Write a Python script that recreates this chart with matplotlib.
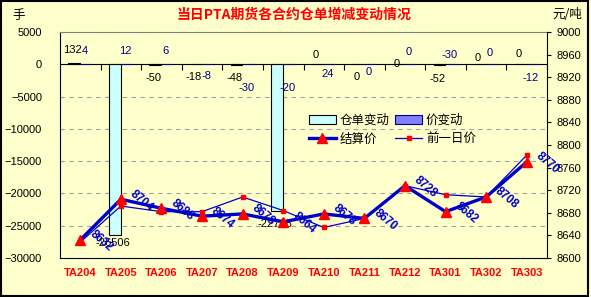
import numpy as np
import matplotlib
matplotlib.use("Agg")
import matplotlib.pyplot as plt
from matplotlib.lines import Line2D
from matplotlib.patches import Patch, Rectangle

plt.rcParams['font.family'] = ['Liberation Sans', 'Noto Sans CJK SC', 'DejaVu Sans']

# ---------------- data ----------------
categories = ["TA204", "TA205", "TA206", "TA207", "TA208", "TA209",
              "TA210", "TA211", "TA212", "TA301", "TA302", "TA303"]
warehouse_change = [132, -26506, -50, -18, -48, -22768, 0, 0, 0, -52, 0, 0]   # 仓单变动 (手)
price_change = [4, 12, 6, -8, -30, -20, 24, 0, 0, -30, 0, -12]             # 价变动
settle_price = [8632, 8704, 8688, 8674, 8678, 8664, 8678, 8670, 8728, 8682, 8708, 8770]  # 结算价
prev_price = [8628, 8692, 8682, 8682, 8708, 8684, 8654, 8670, 8728, 8712, 8708, 8782]    # 前一日价

# label placement style: vertical offsets in points from bar end / zero line
wh_label_off = [9.4, -5.8, -10, -9.4, -10, -9.4, 6.7, -9.4, 0, -10.6, 4.6, 7.4]
pc_label_off = [9.4, 9.4, 9.4, -8.6, -17, -17, -7, -5.8, 8.6, 6.5, 8, -10]

BG = '#FFFFCC'
W, H = 591, 297
fig = plt.figure(figsize=(W / 100, H / 100), dpi=100, facecolor=BG)
ax = fig.add_axes([60 / W, 1 - 258 / H, (547 - 60) / W, (258 - 32) / H])
ax.set_facecolor(BG)

x = np.arange(len(categories))
bw = 0.29
b1 = ax.bar(x - 0.15, warehouse_change, bw, color='#CCFFFF', edgecolor='black', linewidth=0.8, zorder=3)
b2 = ax.bar(x + 0.15, price_change, bw, color='#8080FF', edgecolor='#000080', linewidth=0.8, zorder=3)

ymin, ymax = -30000, 5000
ax.set_ylim(ymin, ymax)
ax.set_xlim(-0.5, len(categories) - 0.5)
ax.set_yticks(np.arange(-30000, 5001, 5000))
ax.tick_params(axis='y', length=0, pad=13, labelsize=8)
ax.set_xticks(x)
ax.set_xticklabels(categories, color='#FF0000', fontweight='bold', fontsize=8)
ax.tick_params(axis='x', length=0, pad=7)
for yv in np.arange(-25000, 0, 5000):
    ax.axhline(yv, color='#A0A0A0', lw=0.8, ls=(0, (4, 4)), zorder=1)
for s in ['left', 'bottom']:
    ax.spines[s].set_color('black')
ax.spines['top'].set_color('#808080')
ax.spines['right'].set_visible(False)

# zero-line category axis with upward ticks
sec = ax.secondary_xaxis((0 - ymin) / (ymax - ymin))
sec.set_xticks(np.arange(len(categories)) + 0.5)
sec.tick_params(direction='in', length=4, labelbottom=False, labeltop=False, color='black')
sec.spines['bottom'].set_color('black')

# bar labels
for xi, v, off in zip(x, warehouse_change, wh_label_off):
    ref = v if off < 0 else max(v, 0)
    ax.annotate(f"{v}", (xi - 0.2, ref), xytext=(0, off), textcoords='offset points',
                ha='center', va='center', fontsize=8, color='black', zorder=5)
for xi, v, off in zip(x, price_change, pc_label_off):
    ax.annotate(f"{v}", (xi + 0.1, 0), xytext=(0, off), textcoords='offset points',
                ha='center', va='center', fontsize=8, color='#000080', zorder=5)

# price lines
ax2 = ax.twinx()
ax2.set_ylim(8600, 9000)
ax2.set_yticks(np.arange(8600, 9001, 40))
ax2.tick_params(axis='y', length=3, pad=4, labelsize=8, direction='out')
ax2.spines['right'].set_color('black')
ax2.spines['left'].set_visible(False)
ax2.spines['top'].set_visible(False)
ax2.spines['bottom'].set_visible(False)

l2, = ax2.plot(x, prev_price, color='#0000CC', lw=0.9, marker='s', ms=2.5,
               mfc='#FF0000', mec='#FF0000', zorder=3)
l1, = ax2.plot(x, settle_price, color='#0000CC', lw=2.4, marker='^', ms=6.5,
               mfc='#FF0000', mec='#FF0000', zorder=4)
for xi, v in zip(x, settle_price):
    ax2.annotate(f"{v}", (xi, v), xytext=(15, -1), textcoords='offset points',
                 rotation=-40, ha='center', va='center', fontsize=8.5,
                 fontweight='bold', color='#0000CC', zorder=6)

h_wh = Patch(facecolor='#CCFFFF', edgecolor='black', linewidth=0.8)
h_pc = Patch(facecolor='#8080FF', edgecolor='#000080', linewidth=0.8)
h_s = Line2D([], [], color='#0000CC', lw=2.4, marker='^', ms=6.5, mfc='#FF0000', mec='#FF0000')
h_p = Line2D([], [], color='#0000CC', lw=0.9, marker='s', ms=2.5, mfc='#FF0000', mec='#FF0000')
leg = ax2.legend([h_wh, h_s, h_pc, h_p], ["仓单变动", "结算价", "价变动", "前一日价"],
                 ncol=2, loc='upper left', bbox_to_anchor=(0.50, 0.66), frameon=False,
                 prop={'family': ['Noto Sans CJK SC'], 'size': 9},
                 handlelength=2.2, handletextpad=0.3, columnspacing=0.4,
                 labelspacing=0.45, borderaxespad=0)

# texts
fig.text(0.497, 1 - 15 / H, "当日PTA期货各合约仓单增减变动情况", ha='center', va='center',
         color='#FF0000', fontsize=10, fontweight='bold', family=['Noto Sans CJK SC'])
fig.text(12 / W, 1 - 15 / H, "手", ha='left', va='center', fontsize=9, family=['Noto Sans CJK SC'])
fig.text(552 / W, 1 - 15 / H, "元/吨", ha='left', va='center', fontsize=9, family=['Noto Sans CJK SC'])

fig.add_artist(Rectangle((0.002, 0.004), 0.993, 0.992, transform=fig.transFigure,
                         fill=False, edgecolor='black', lw=1.5))

fig.savefig("out.png", dpi=100, facecolor=BG)
